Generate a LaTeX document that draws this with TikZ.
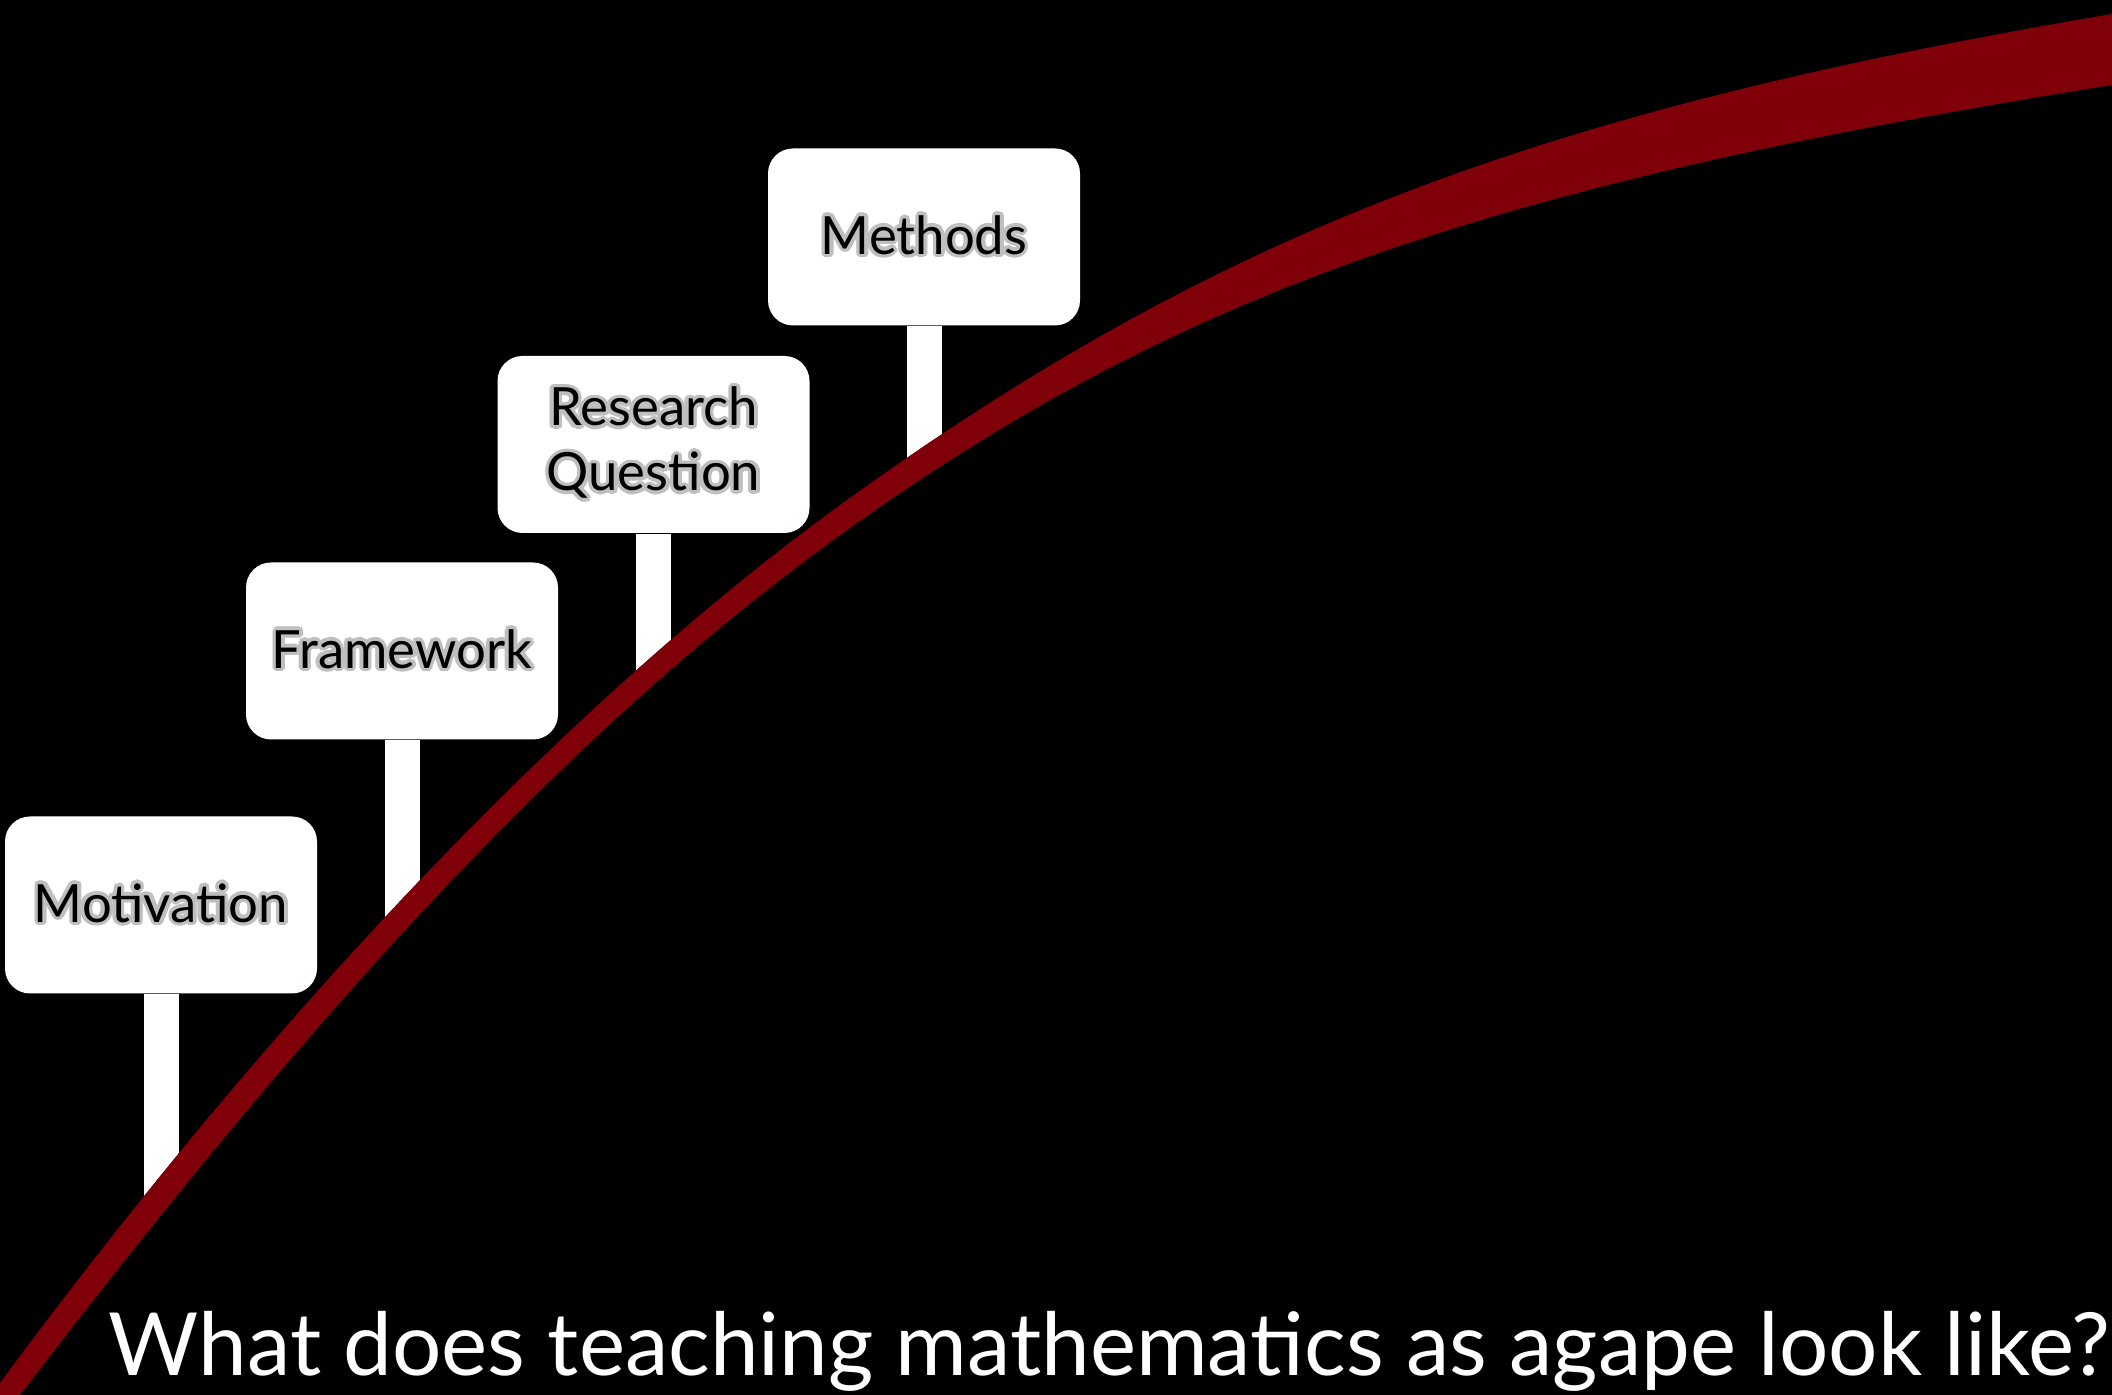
\documentclass[tikz,border=0pt]{standalone}
\usepackage{fontspec}
\setmainfont{Lato}
\usepackage{contour}
\contourlength{1pt}
\usepackage{tikz}

\definecolor{agred}{RGB}{127,0,9}
\newcommand{\glow}[1]{\contour{black!25}{#1}}
\def\outerline{(-0.2,-0.15) -- (0,0.12) .. controls (2.81,3.92) and (5.78,7.01) .. (8.47,8.95) .. controls (12.17,11.61) and (15.33,12.83) .. (21.12,13.81) -- (21.4,13.86)}

\begin{document}
\begin{tikzpicture}[
  sign/.style={fill=white, rounded corners=0.25cm, minimum width=3.12cm, minimum height=1.77cm, inner sep=0pt, align=center, font=\fontsize{15}{18.5}\selectfont},
  pole/.style={draw=white, line width=0.35cm},
  band/.style={fill=agred},
  ttl/.style={text=white, inner sep=0pt, anchor=base west, font=\fontsize{24.8}{30}\selectfont}
]
\useasboundingbox[fill=black] (0,0) rectangle (21.12,13.95);

% signs
\node[sign] (mot) at (1.61,4.90) {\glow{Motivation}};
\node[sign] (frm) at (4.02,7.44) {\glow{Framework}};
\node[sign] (rq) at (6.535,9.505) {\glow{Research}\\\glow{Question}};
\node[sign] (mth) at (9.24,11.58) {\glow{Methods}};

% poles stop at the band
\begin{scope}
  \clip \outerline -- (21.4,14.2) -- (-0.3,14.2) -- cycle;
  \foreach \s in {mot,frm,rq,mth}
    \draw[pole] (\s.south) -- ++(0,-3);
\end{scope}

\fill[band] \outerline -- (21.4,13.14) -- (21.12,13.10) .. controls (15.06,12.13) and (11.98,11.08) .. (8.8,8.88) .. controls (6.10,7.02) and (3.53,4.35) .. (0.2,0) -- (0.05,-0.2) -- cycle;

\node[ttl] (q) at (1.08,0.19) {What does teaching mathematics as agape look like?};
\end{tikzpicture}
\end{document}
